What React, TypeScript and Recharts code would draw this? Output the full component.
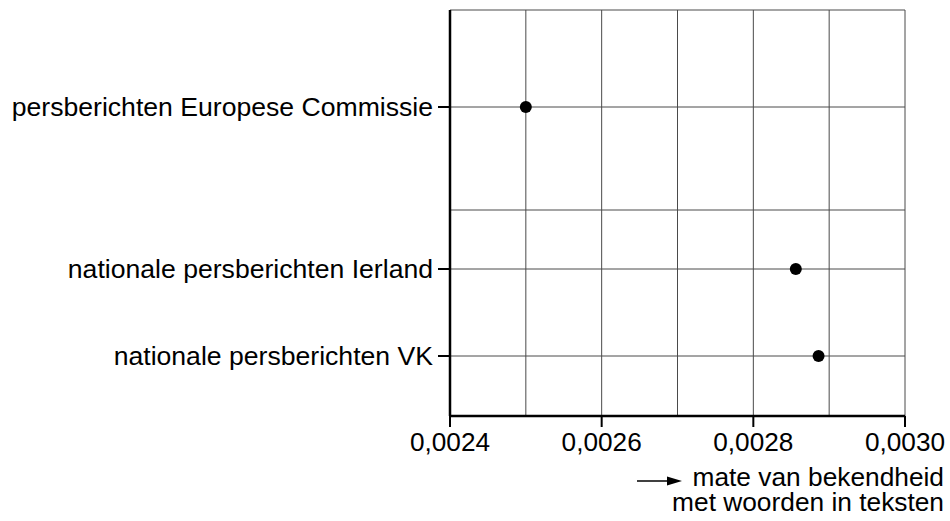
import { ScatterChart, Scatter, XAxis, YAxis, ReferenceLine } from 'recharts'

const categories = [
  'nationale persberichten VK',
  'nationale persberichten Ierland',
  'persberichten Europese Commissie',
]
const values = [0.002886, 0.002856, 0.0025]
// vertical place of each row on the y scale (0 = bottom of plot)
const rowPos = [0.6, 1.47, 3.09]
const extraRows = [2.06, 4.06]
const xTicks = [0.0024, 0.0026, 0.0028, 0.003]
const xGrid = [0.0024, 0.0025, 0.0026, 0.0027, 0.0028, 0.0029, 0.003]

const data = values.map((v, i) => ({ x: v, y: rowPos[i], name: categories[i] }))

const font = 'Liberation Sans, Arial, sans-serif'

function AxisTitle({ viewBox }: any) {
  const right = viewBox.x + viewBox.width + 39
  return (
    <g fontFamily={font} fontSize={26.3} fill="#000">
      <line x1={637} x2={672} y1={481} y2={481} stroke="#000" strokeWidth={1.6} />
      <path d="M 667 476.5 L 682 481 L 667 485.5 Z" fill="#000" />
      <text x={right} y={486} textAnchor="end">mate van bekendheid</text>
      <text x={right} y={511} textAnchor="end">met woorden in teksten</text>
    </g>
  )
}

export default function App() {
  return (
    <div style={{ position: 'absolute', left: 0, top: 0, background: '#fff' }}>
      <ScatterChart width={950} height={521} margin={{ top: 10, right: 45, left: 0, bottom: 0 }}>
        {xGrid.map((v) => (
          <ReferenceLine key={'gx' + v} x={v} stroke="#4a4a4a" strokeWidth={1} />
        ))}
        {[...rowPos, ...extraRows].map((v) => (
          <ReferenceLine key={'gy' + v} y={v} stroke="#4a4a4a" strokeWidth={1} />
        ))}
        <XAxis
          type="number"
          dataKey="x"
          domain={[0.0024, 0.003]}
          ticks={xTicks}
          interval={0}
          height={105}
          tickSize={11}
          tickMargin={5}
          tick={{ fontFamily: font, fontSize: 26.2, fill: '#000' }}
          tickLine={{ stroke: '#000', strokeWidth: 2 }}
          axisLine={{ stroke: '#000', strokeWidth: 2.5 }}
          tickFormatter={(v: number) => v.toFixed(4).replace('.', ',')}
          label={<AxisTitle />}
        />
        <YAxis
          type="number"
          dataKey="y"
          domain={[0, 4.06]}
          ticks={rowPos}
          interval={0}
          width={450}
          tickSize={12}
          tickMargin={5}
          tick={{ fontFamily: font, fontSize: 26.6, fill: '#000' }}
          tickLine={{ stroke: '#000', strokeWidth: 2 }}
          axisLine={{ stroke: '#000', strokeWidth: 2.5 }}
          tickFormatter={(v: number) => categories[rowPos.indexOf(v)] ?? ''}
        />
        <Scatter
          data={data}
          isAnimationActive={false}
          shape={(p: any) => <circle cx={p.cx} cy={p.cy} r={6} fill="#000" />}
        />
      </ScatterChart>
    </div>
  )
}
